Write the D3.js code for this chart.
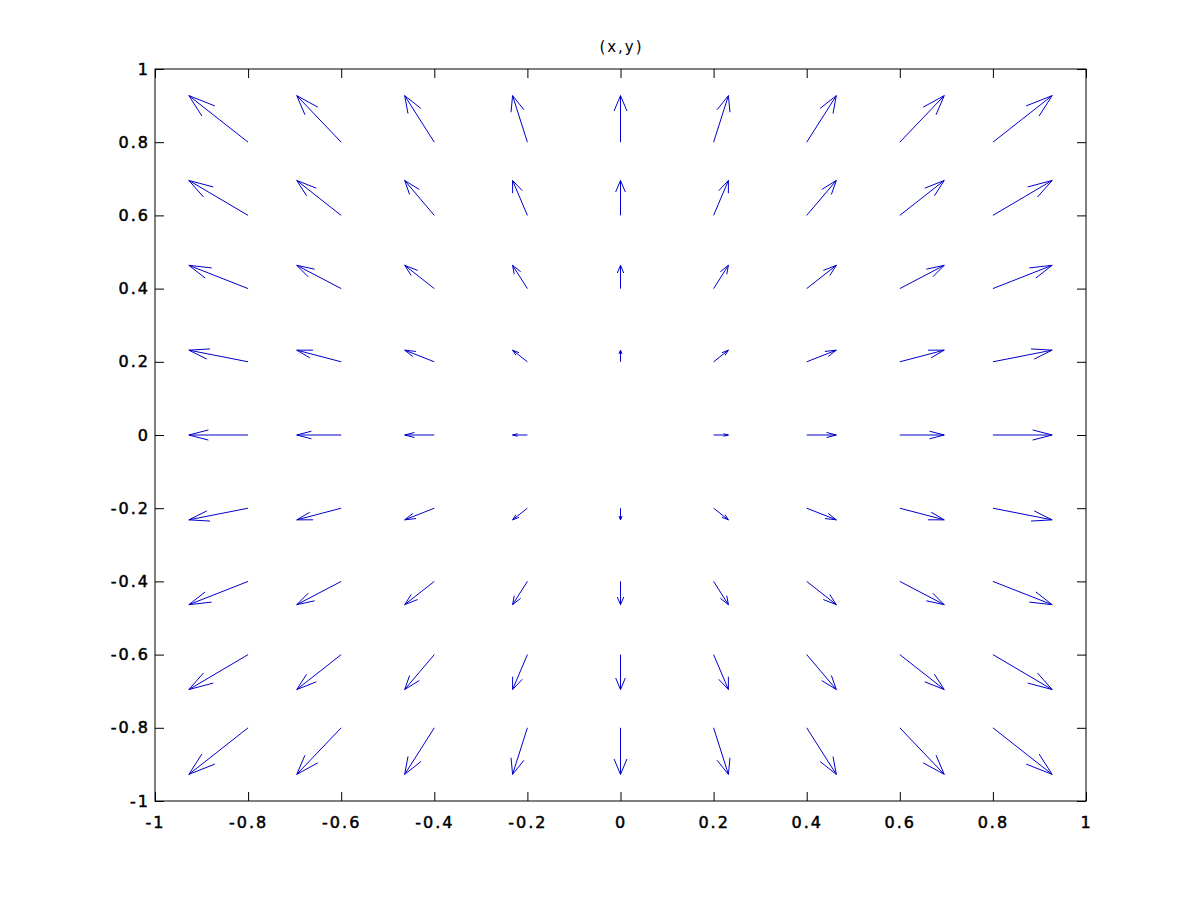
<!DOCTYPE html>
<html>
<head>
<meta charset="utf-8">
<script src="https://cdn.jsdelivr.net/npm/d3@7"></script>
<style>
body { margin:0; background:#fff; }
svg { display:block; }
</style>
</head>
<body>
<svg></svg>
<script>
var screen = {width:1200,height:901}
var margins = {top:69,right:114,left:155,bottom:100}

// grid positions
var xs = [-0.8,-0.6,-0.4,-0.2,0,0.2,0.4,0.6,0.8]
var ys = [-0.8,-0.6,-0.4,-0.2,0,0.2,0.4,0.6,0.8]

// vector components, rows follow ys, columns follow xs
var u = [
 [-0.8,-0.6,-0.4,-0.2,0,0.2,0.4,0.6,0.8],
 [-0.8,-0.6,-0.4,-0.2,0,0.2,0.4,0.6,0.8],
 [-0.8,-0.6,-0.4,-0.2,0,0.2,0.4,0.6,0.8],
 [-0.8,-0.6,-0.4,-0.2,0,0.2,0.4,0.6,0.8],
 [-0.8,-0.6,-0.4,-0.2,0,0.2,0.4,0.6,0.8],
 [-0.8,-0.6,-0.4,-0.2,0,0.2,0.4,0.6,0.8],
 [-0.8,-0.6,-0.4,-0.2,0,0.2,0.4,0.6,0.8],
 [-0.8,-0.6,-0.4,-0.2,0,0.2,0.4,0.6,0.8],
 [-0.8,-0.6,-0.4,-0.2,0,0.2,0.4,0.6,0.8]
]
var v = [
 [-0.8,-0.8,-0.8,-0.8,-0.8,-0.8,-0.8,-0.8,-0.8],
 [-0.6,-0.6,-0.6,-0.6,-0.6,-0.6,-0.6,-0.6,-0.6],
 [-0.4,-0.4,-0.4,-0.4,-0.4,-0.4,-0.4,-0.4,-0.4],
 [-0.2,-0.2,-0.2,-0.2,-0.2,-0.2,-0.2,-0.2,-0.2],
 [0,0,0,0,0,0,0,0,0],
 [0.2,0.2,0.2,0.2,0.2,0.2,0.2,0.2,0.2],
 [0.4,0.4,0.4,0.4,0.4,0.4,0.4,0.4,0.4],
 [0.6,0.6,0.6,0.6,0.6,0.6,0.6,0.6,0.6],
 [0.8,0.8,0.8,0.8,0.8,0.8,0.8,0.8,0.8]
]

var xTicks = [-1,-0.8,-0.6,-0.4,-0.2,0,0.2,0.4,0.6,0.8,1]
var yTicks = [-1,-0.8,-0.6,-0.4,-0.2,0,0.2,0.4,0.6,0.8,1]
var xTickLabels = ["-1","-0.8","-0.6","-0.4","-0.2","0","0.2","0.4","0.6","0.8","1"]
var yTickLabels = ["-1","-0.8","-0.6","-0.4","-0.2","0","0.2","0.4","0.6","0.8","1"]
var title = "(x,y)"

var width = screen.width - margins.left - margins.right
var height = screen.height - margins.top - margins.bottom
var font = "DejaVu Sans, Verdana, sans-serif"

var svg = d3.select("svg")
    .attr("width",screen.width)
    .attr("height",screen.height)

var xScale = d3.scaleLinear().domain([-1,1]).range([0,width])
var yScale = d3.scaleLinear().domain([-1,1]).range([height,0])

var graph = svg.append("g")
    .attr("transform","translate("+margins.left+","+margins.top+")")

// box
graph.append("rect")
    .attr("x",0).attr("y",0)
    .attr("width",width).attr("height",height)
    .attr("fill","none").attr("stroke","#000")

var xAxis = d3.axisBottom(xScale).tickValues(xTicks).tickSizeInner(-9).tickSizeOuter(0).tickPadding(16)
    .tickFormat(function(d,i){ return xTickLabels[i] })
var yAxis = d3.axisLeft(yScale).tickValues(yTicks).tickSizeInner(-9).tickSizeOuter(0).tickPadding(5)
    .tickFormat(function(d,i){ return yTickLabels[i] })

var styleAxis = function(g)
{
    g.select(".domain").remove()
    g.attr("font-family",font).attr("font-size",16)
    g.selectAll("line").attr("stroke","#000")
    g.selectAll("text").attr("fill","#000")
        .attr("stroke","#000").attr("stroke-width",0.5)
        .attr("letter-spacing","2px")
}

graph.append("g")
    .attr("transform","translate(0,"+height+")")
    .call(xAxis)
    .call(styleAxis)
graph.append("g")
    .call(yAxis)
    .call(styleAxis)
// mirrored ticks on top and right
graph.append("g")
    .call(d3.axisTop(xScale).tickValues(xTicks).tickSizeInner(-9).tickSizeOuter(0).tickFormat(""))
    .call(styleAxis)
graph.append("g")
    .attr("transform","translate("+width+",0)")
    .call(d3.axisRight(yScale).tickValues(yTicks).tickSizeInner(-9).tickSizeOuter(0).tickFormat(""))
    .call(styleAxis)

graph.append("text")
    .attr("x",width/2+1).attr("y",-17)
    .attr("text-anchor","middle")
    .attr("font-family",font)
    .attr("font-size",15)
    .attr("letter-spacing","2px")
    .text(title)

// quiver autoscale like matlab
var delx = 0.2, dely = 0.2
var maxLen = 0
ys.forEach(function(y,i){ xs.forEach(function(x,j){
    var l = Math.sqrt(Math.pow(u[i][j]/delx,2)+Math.pow(v[i][j]/dely,2))
    if (l > maxLen) maxLen = l
})})
var s = 0.9/maxLen
var alpha = 0.33, beta = 0.33

var arrows = []
ys.forEach(function(y,i){ xs.forEach(function(x,j){
    arrows.push({x:x,y:y,u:u[i][j]*s,v:v[i][j]*s})
})})

var arrowPath = function(a)
{
    var tx = a.x+a.u, ty = a.y+a.v
    var e = 1e-16
    var h1x = tx - alpha*(a.u+beta*(a.v+e)), h1y = ty - alpha*(a.v-beta*(a.u+e))
    var h2x = tx - alpha*(a.u-beta*(a.v+e)), h2y = ty - alpha*(a.v+beta*(a.u+e))
    return "M"+xScale(a.x)+","+yScale(a.y)+"L"+xScale(tx)+","+yScale(ty)+
        "M"+xScale(h1x)+","+yScale(h1y)+"L"+xScale(tx)+","+yScale(ty)+"L"+xScale(h2x)+","+yScale(h2y)
}

graph.selectAll("path.arrow")
    .data(arrows)
    .enter()
    .append("path")
    .attr("class","arrow")
    .attr("d",arrowPath)
    .attr("fill","none")
    .attr("stroke","#0000cc")
    .attr("stroke-width",1)
</script>
</body>
</html>
